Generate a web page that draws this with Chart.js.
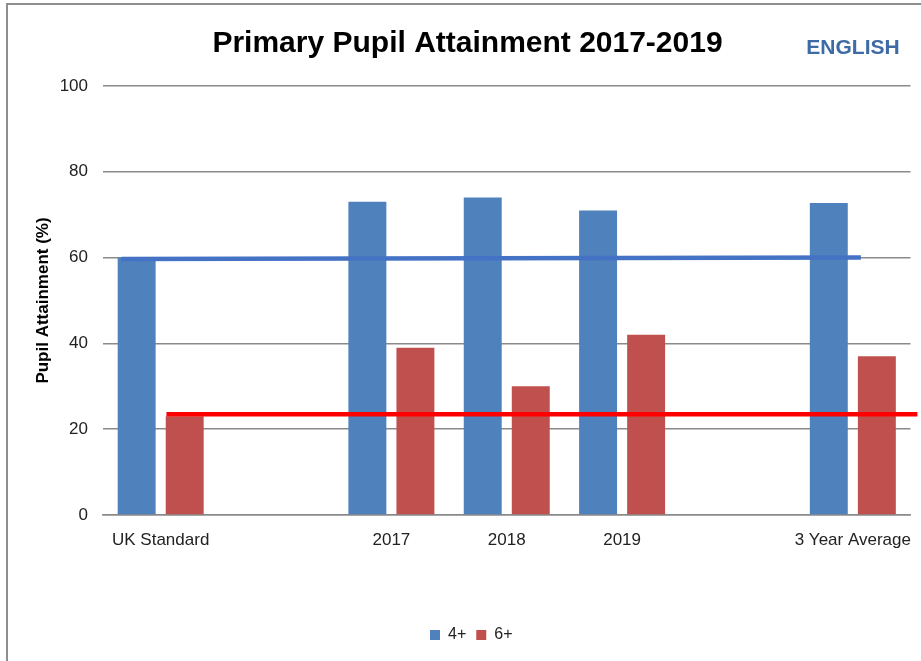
<!DOCTYPE html>
<html>
<head>
<meta charset="utf-8">
<script src="https://cdn.jsdelivr.net/npm/chart.js@4/dist/chart.umd.min.js"></script>
<style>
  html, body { margin: 0; padding: 0; background: #fff; overflow: hidden; }
  #wrap { position: relative; width: 921px; height: 661px; }
  #frame { position: absolute; left: 6px; top: 3px; width: 1000px; height: 1000px;
           border-left: 2px solid #8e8e8e; border-top: 2px solid #8e8e8e; pointer-events: none; }
  canvas { position: absolute; left: 0; top: 0; }
</style>
</head>
<body>
<div id="wrap">
  <canvas id="c" width="921" height="661"></canvas>
  <div id="frame"></div>
</div>
<script>
// ---- data ----
const categories = ['UK Standard', '', '2017', '2018', '2019', '', '3 Year Average'];
const series4 = [60, null, 73, 74, 71, null, 72.7];
const series6 = [23, null, 39, 30, 42, null, 37];
const seriesNames = ['4+', '6+'];
const yTicks = [0, 20, 40, 60, 80, 100];
// reference lines (x in category index units, y in %)
const blueLineX = [-0.34, 6.07];
const blueLineY = [59.7, 60.0];
const redLineX = [0.05, 6.56];
const redLineY = [23.5, 23.5];

const titleText = 'Primary Pupil Attainment 2017-2019';
const subjectText = 'ENGLISH';
const yTitle = 'Pupil Attainment (%)';

const FONT = '"Liberation Sans", Arial, sans-serif';

const toPts = (xs, ys) => xs.map((x, i) => ({ x: x, y: ys[i] }));

const textPlugin = {
  id: 'texts',
  afterDraw(chart) {
    const ctx = chart.ctx;
    ctx.save();
    ctx.fillStyle = '#000';
    ctx.font = 'bold 30px ' + FONT;
    ctx.textAlign = 'center';
    ctx.textBaseline = 'alphabetic';
    ctx.fillText(titleText, 467.5, 52);
    ctx.fillStyle = '#3E6BA5';
    ctx.font = 'bold 21px ' + FONT;
    ctx.fillText(subjectText, 853, 54);
    ctx.restore();
  }
};

new Chart(document.getElementById('c'), {
  data: {
    labels: categories,
    datasets: [
      { type: 'bar', label: seriesNames[0], data: series4, backgroundColor: '#4F81BD',
        categoryPercentage: 0.833, barPercentage: 0.79, order: 2 },
      { type: 'bar', label: seriesNames[1], data: series6, backgroundColor: '#C0504D',
        categoryPercentage: 0.833, barPercentage: 0.79, order: 2 },
      { type: 'line', label: 'line4', data: toPts(blueLineX, blueLineY), parsing: false, borderColor: '#4472C4',
        borderWidth: 4.5, pointRadius: 0, clip: false, order: 1, tension: 0 },
      { type: 'line', label: 'line6', data: toPts(redLineX, redLineY), parsing: false, borderColor: '#FF0000',
        borderWidth: 4.5, pointRadius: 0, clip: false, order: 1, tension: 0 }
    ]
  },
  options: {
    responsive: false,
    animation: false,
    layout: { padding: { top: 86, right: 10.5, bottom: 8, left: 32 } },
    plugins: {
      title: { display: false },
      tooltip: { enabled: false },
      legend: {
        display: true,
        position: 'bottom',
        labels: {
          boxWidth: 10, boxHeight: 10, padding: 10,
          color: '#222',
          font: { family: FONT, size: 16 },
          filter: (item) => item.datasetIndex < 2
        }
      }
    },
    scales: {
      x: {
        type: 'category',
        offset: true,
        grid: { display: false, drawTicks: false },
        border: { display: true, color: '#8a8a8a', width: 1.5 },
        ticks: { color: '#222', font: { family: FONT, size: 17 }, padding: 15, maxRotation: 0, autoSkip: false },
        afterFit(axis) {
          const lg = axis.chart.legend ? axis.chart.legend.height : 0;
          axis.height = axis.chart.height - 515 - lg - 8;
          axis.paddingLeft = 0;
          axis.paddingRight = 0;
        }
      },
      y: {
        type: 'linear', min: 0, max: 100,
        afterBuildTicks(axis) { axis.ticks = yTicks.map(v => ({ value: v })); },
        grid: { color: '#8a8a8a', lineWidth: 1.5, drawTicks: false },
        border: { display: false },
        ticks: { color: '#222', font: { family: FONT, size: 17 }, padding: 15 },
        title: { display: true, text: yTitle, color: '#000',
                 font: { family: FONT, size: 17, weight: 'bold' }, padding: { top: 1, bottom: 0 } },
        afterFit(axis) { axis.width = 103 - 32; }
      }
    }
  },
  plugins: [textPlugin]
});
</script>
</body>
</html>
